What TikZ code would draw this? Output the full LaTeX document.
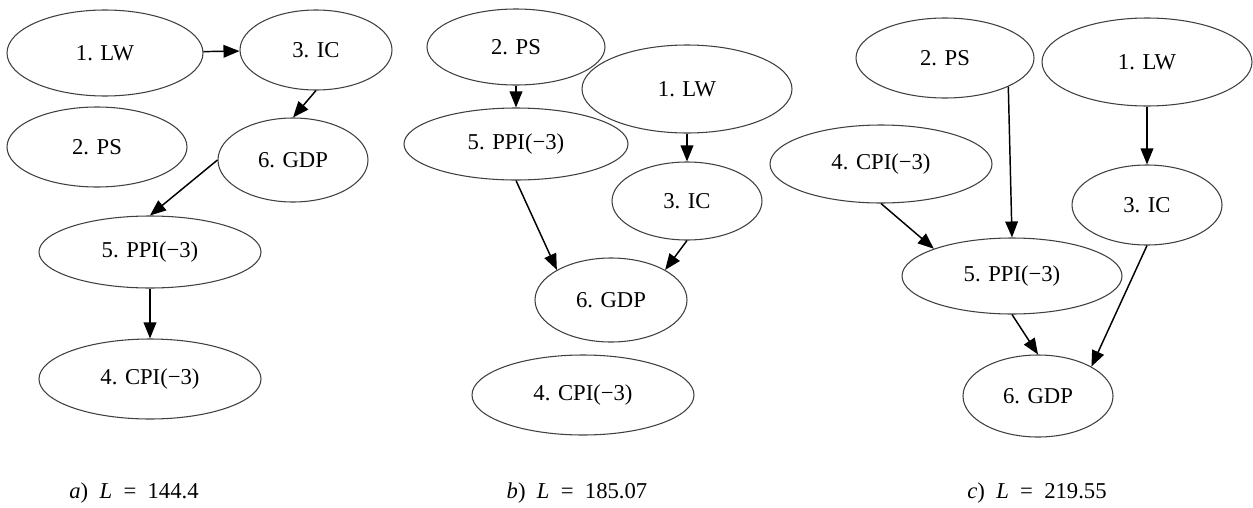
\documentclass[tikz,border=0pt]{standalone}
\usepackage{fontspec}
\setmainfont{Liberation Serif}
\usetikzlibrary{shapes.geometric,arrows.meta}
\newcommand{\edgeWidth}[0]{1.1pt}
\newcommand{\ovalWidth}[0]{0.8pt}
\newcommand{\labelSize}[0]{\fontsize{17}{20}\selectfont}

\begin{document}
\begin{tikzpicture}[x=0.75pt, y=-0.75pt]
  \tikzset{every node/.style={font=\labelSize},
    var/.style 2 args={ellipse, draw=black!75, line width=\ovalWidth, inner sep=0pt,
      minimum width=#1*1.5pt, minimum height=#2*1.5pt},
    dep/.style={-{Triangle[length=12pt,width=9.5pt]}, line width=\edgeWidth}}
  \useasboundingbox (0,0) rectangle (1253,507);

  % a)
  \node[var={98}{43}] (LW-a) at (105,53) {1. LW};
  \node[var={76}{40}] (IC-a) at (316,50) {3. IC};
  \node[var={90}{40}] (PS-a) at (97,147) {2. PS};
  \node[var={75}{42}] (GDP-a) at (293,160) {6. GDP};
  \node[var={111}{36}] (PPI-a) at (150,252) {5. PPI(−3)};
  \node[var={111}{40}] (CPI-a) at (150,379) {4. CPI(−3)};
  \draw[dep] (LW-a) -- (IC-a);
  \draw[dep] (IC-a.south) -- (GDP-a.north);
  \draw[dep] (GDP-a.west) -- (PPI-a.north);
  \draw[dep] (PPI-a) -- (CPI-a);
  \node (cap-a) at (134,493) {\textit{a})\enspace\textit{L}\enspace=\enspace144.4};

  % b)
  \node[var={89}{38}] (PS-b) at (516,47) {2. PS};
  \node[var={105}{44}] (LW-b) at (687,89) {1. LW};
  \node[var={112}{36}] (PPI-b) at (516,144) {5. PPI(−3)};
  \node[var={75}{39}] (IC-b) at (687,201) {3. IC};
  \node[var={76}{42}] (GDP-b) at (611,300) {6. GDP};
  \node[var={111}{40}] (CPI-b) at (583,395) {4. CPI(−3)};
  \draw[dep] (PS-b) -- (PPI-b);
  \draw[dep] (LW-b) -- (IC-b);
  \draw[dep] (PPI-b.south) -- (GDP-b.north west);
  \draw[dep] (IC-b.south) -- (GDP-b.north east);
  \node (cap-b) at (577,493) {\textit{b})\enspace\textit{L}\enspace=\enspace185.07};

  % c)
  \node[var={89}{40}] (PS-c) at (945,58) {2. PS};
  \node[var={105}{44}] (LW-c) at (1147,62) {1. LW};
  \node[var={111}{39}] (CPI-c) at (881,164) {4. CPI(−3)};
  \node[var={75}{40}] (IC-c) at (1147,205) {3. IC};
  \node[var={110}{38}] (PPI-c) at (1012,276) {5. PPI(−3)};
  \node[var={75}{41}] (GDP-c) at (1038,396) {6. GDP};
  \draw[dep] (PS-c.south east) -- (PPI-c.north);
  \draw[dep] (CPI-c.south) -- (PPI-c.north west);
  \draw[dep] (LW-c) -- (IC-c);
  \draw[dep] (IC-c.south) -- (GDP-c.north east);
  \draw[dep] (PPI-c.south) -- (GDP-c.north);
  \node (cap-c) at (1037,493) {\textit{c})\enspace\textit{L}\enspace=\enspace219.55};
\end{tikzpicture}
\end{document}
